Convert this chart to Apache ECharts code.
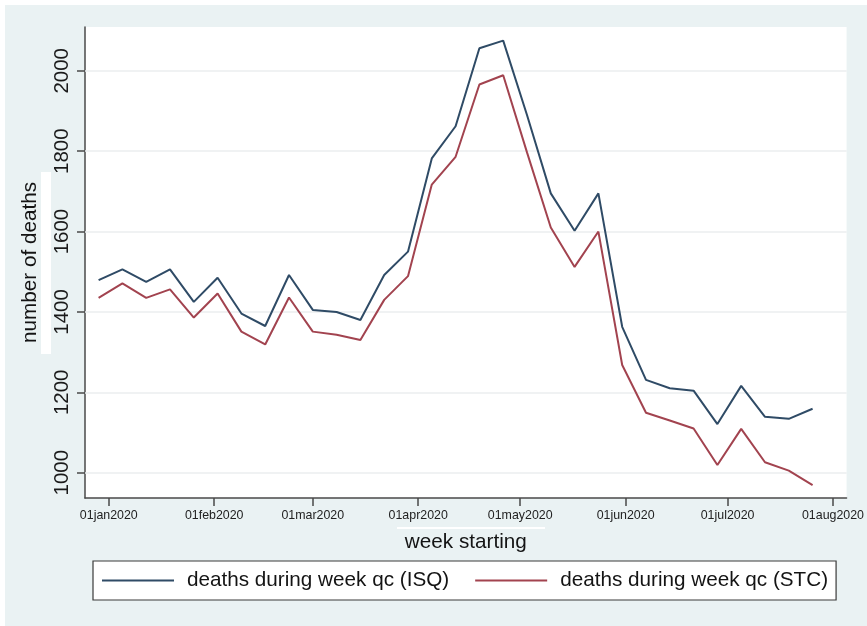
<!DOCTYPE html>
<html>
<head>
<meta charset="utf-8">
<title>Weekly deaths, Québec 2020</title>
<script src="https://cdn.jsdelivr.net/npm/echarts@6/dist/echarts.min.js"></script>
<style>
  html, body { margin: 0; padding: 0; background: #ffffff; }
  #chart { width: 867px; height: 626px; }
</style>
</head>
<body>
<div id="chart"></div>
<script>
// Week start dates (Sundays)
const weekStart = [
  '2019-12-29', '2020-01-05', '2020-01-12', '2020-01-19', '2020-01-26',
  '2020-02-02', '2020-02-09', '2020-02-16', '2020-02-23', '2020-03-01',
  '2020-03-08', '2020-03-15', '2020-03-22', '2020-03-29', '2020-04-05',
  '2020-04-12', '2020-04-19', '2020-04-26', '2020-05-03', '2020-05-10',
  '2020-05-17', '2020-05-24', '2020-05-31', '2020-06-07', '2020-06-14',
  '2020-06-21', '2020-06-28', '2020-07-05', '2020-07-12', '2020-07-19',
  '2020-07-26'
];

// Deaths during week, ISQ estimate
const deathsISQ = [
  1479, 1506, 1475, 1506, 1425, 1485, 1396, 1365, 1492, 1405,
  1400, 1380, 1492, 1550, 1782, 1862, 2056, 2075, 1890, 1695,
  1602, 1695, 1363, 1231, 1210, 1204, 1121, 1216, 1139, 1134,
  1159
];

// Deaths during week, STC estimate
const deathsSTC = [
  1435, 1471, 1435, 1456, 1386, 1446, 1351, 1319, 1436, 1351,
  1343, 1330, 1430, 1489, 1717, 1786, 1966, 1989, 1797, 1610,
  1512, 1600, 1268, 1149, 1130, 1110, 1019, 1109, 1026, 1005,
  969
];

const seriesNames = ['deaths during week qc (ISQ)', 'deaths during week qc (STC)'];

// Axis ticks
const xTickDates = ['2020-01-01', '2020-02-01', '2020-03-01', '2020-04-01',
                    '2020-05-01', '2020-06-01', '2020-07-01', '2020-08-01'];
const yTickValues = [1000, 1200, 1400, 1600, 1800, 2000];
const xRange = ['2019-12-25', '2020-08-05'];
const yRange = [937, 2109];

const monthAbbr = ['jan', 'feb', 'mar', 'apr', 'may', 'jun',
                   'jul', 'aug', 'sep', 'oct', 'nov', 'dec'];

function toTime(s) {
  const p = s.split('-').map(Number);
  return new Date(p[0], p[1] - 1, p[2]).getTime();
}

function stataDate(v) {
  const d = new Date(typeof v === 'object' ? v.value : v);
  const dd = String(d.getDate()).padStart(2, '0');
  return dd + monthAbbr[d.getMonth()] + d.getFullYear();
}

const FONT = '"Liberation Sans", Arial, Helvetica, sans-serif';
const xTicks = xTickDates.map(toTime);

const chart = echarts.init(document.getElementById('chart'), null, { renderer: 'canvas' });

chart.setOption({
  backgroundColor: '#eaf2f3',
  animation: false,
  textStyle: { fontFamily: FONT },
  graphic: [
    // white margins above and to the left of the outer panel
    { type: 'rect', left: 0, top: 0, shape: { width: 867, height: 5 }, style: { fill: '#ffffff' }, silent: true },
    { type: 'rect', left: 0, top: 0, shape: { width: 5, height: 626 }, style: { fill: '#ffffff' }, silent: true },
    // pale patches beside the axis title and under the date labels
    { type: 'rect', left: 41, top: 172, shape: { width: 10, height: 182 }, style: { fill: '#ffffff' }, silent: true, z: 100 },
    { type: 'rect', left: 397, top: 527, shape: { width: 148, height: 2 }, style: { fill: '#ffffff' }, silent: true, z: 100 }
  ],
  grid: {
    left: 85, top: 27, right: 20, bottom: 128,
    show: true, backgroundColor: '#ffffff', borderWidth: 0
  },
  legend: {
    data: seriesNames,
    left: 93, top: 561,
    orient: 'horizontal',
    icon: 'rect',
    itemWidth: 72, itemHeight: 2, itemGap: 26,
    padding: [9, 8, 9, 9],
    backgroundColor: '#ffffff',
    borderColor: '#3a3a3a', borderWidth: 1.2, borderRadius: 0,
    selectedMode: false,
    textStyle: {
      fontFamily: FONT, fontSize: 20.7, color: '#141414',
      lineHeight: 21, padding: [0, 0, 0, 8]
    }
  },
  xAxis: {
    type: 'value',
    min: toTime(xRange[0]),
    max: toTime(xRange[1]),
    name: 'week starting',
    nameLocation: 'middle',
    nameGap: 34,
    nameTextStyle: { fontFamily: FONT, fontSize: 20.7, color: '#141414' },
    axisLine: { show: true, onZero: false, lineStyle: { color: '#4a4a4a', width: 1.5 } },
    axisTick: { show: true, length: 8, customValues: xTicks, lineStyle: { color: '#4a4a4a', width: 1.5 } },
    axisLabel: {
      customValues: xTicks,
      formatter: stataDate,
      fontFamily: FONT, fontSize: 12.4, color: '#222222', margin: 12,
      hideOverlap: false
    },
    splitLine: { show: false },
    minorTick: { show: false }
  },
  yAxis: {
    type: 'value',
    min: yRange[0],
    max: yRange[1],
    name: 'number of deaths',
    nameLocation: 'middle',
    nameGap: 44,
    nameRotate: 90,
    nameTextStyle: { fontFamily: FONT, fontSize: 20.7, color: '#141414' },
    axisLine: { show: true, onZero: false, lineStyle: { color: '#4a4a4a', width: 1.5 } },
    axisTick: { show: true, length: 8, customValues: yTickValues, lineStyle: { color: '#4a4a4a', width: 1.5 } },
    axisLabel: {
      customValues: yTickValues,
      formatter: v => String(v),
      rotate: 90,
      fontFamily: FONT, fontSize: 20.5, color: '#1a1a1a', margin: 12
    },
    splitLine: { show: false }
  },
  series: [
    {
      name: seriesNames[0],
      type: 'line',
      symbol: 'none',
      data: weekStart.map((d, i) => [toTime(d), deathsISQ[i]]),
      lineStyle: { color: '#2f4b66', width: 2 },
      itemStyle: { color: '#2f4b66' },
      z: 3,
      // horizontal grid lines at the labelled values
      markLine: {
        silent: true,
        symbol: 'none',
        label: { show: false },
        z: 1,
        lineStyle: { color: '#ebeeef', width: 1.5, type: 'solid' },
        emphasis: { disabled: true },
        data: yTickValues.map(v => ({ yAxis: v }))
      }
    },
    {
      name: seriesNames[1],
      type: 'line',
      symbol: 'none',
      data: weekStart.map((d, i) => [toTime(d), deathsSTC[i]]),
      lineStyle: { color: '#a2434f', width: 2 },
      itemStyle: { color: '#a2434f' },
      z: 3
    }
  ]
});
</script>
</body>
</html>
